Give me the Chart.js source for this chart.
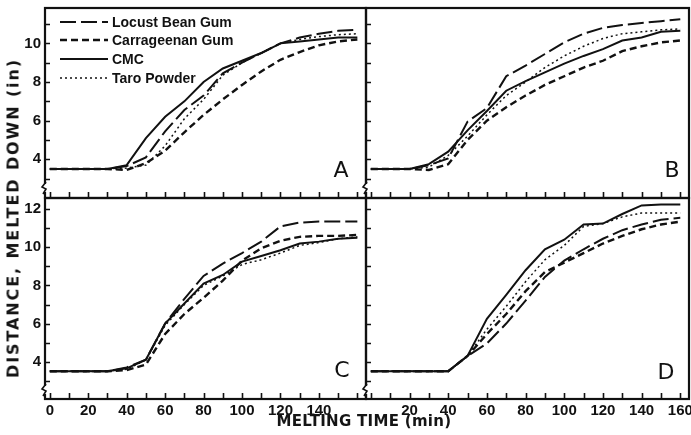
<!DOCTYPE html>
<html><head><meta charset="utf-8">
<script src="https://cdn.jsdelivr.net/npm/chart.js@4.4.1/dist/chart.umd.min.js"></script>
<style>
html,body{margin:0;padding:0;background:#fff;}
#wrap{position:relative;width:691px;height:435px;overflow:hidden;background:#fff;}
canvas{position:absolute;left:0;top:0;}
.title{position:absolute;font-family:"DejaVu Sans",sans-serif;font-weight:bold;color:#151515;white-space:nowrap;}
#xt{left:0;width:728px;top:412px;text-align:center;font-size:15px;letter-spacing:0.3px;}
#yt{left:13px;top:218px;font-size:16px;letter-spacing:1.9px;transform:translate(-50%,-50%) rotate(-90deg);}
</style></head><body><div id="wrap">
<canvas id="cA" width="691" height="435"></canvas>
<canvas id="cB" width="691" height="435"></canvas>
<canvas id="cC" width="691" height="435"></canvas>
<canvas id="cD" width="691" height="435"></canvas>
<div class="title" id="xt">MELTING TIME (min)</div>
<div class="title" id="yt">DISTANCE, MELTED DOWN (in)</div>
</div>
<script>
// ---- data (distance melted down, inches, every 10 min) ----
const minutes = [0,10,20,30,40,50,60,70,80,90,100,110,120,130,140,150,160];
const seriesNames = ['Locust Bean Gum','Carrageenan Gum','CMC','Taro Powder'];
const panelLetters = ['A','B','C','D'];

const locustA = [3.5,3.5,3.5,3.5,3.65,4.1,5.45,6.55,7.3,8.45,9.0,9.5,10.0,10.3,10.5,10.65,10.7];
const carrA   = [3.5,3.5,3.5,3.5,3.45,3.8,4.45,5.4,6.3,7.1,7.85,8.55,9.15,9.55,9.9,10.1,10.2];
const cmcA    = [3.5,3.5,3.5,3.5,3.7,5.1,6.2,7.0,8.0,8.7,9.1,9.5,10.0,10.1,10.2,10.3,10.3];
const taroA   = [3.5,3.5,3.5,3.5,3.55,3.7,4.7,6.1,7.1,8.35,9.0,9.5,10.0,10.2,10.35,10.45,10.5];

const locustB = [3.5,3.5,3.5,3.7,4.05,5.95,6.65,8.3,8.85,9.45,10.05,10.5,10.8,10.95,11.05,11.15,11.25];
const carrB   = [3.5,3.5,3.5,3.45,3.75,5.0,6.0,6.7,7.3,7.85,8.3,8.75,9.1,9.6,9.85,10.05,10.15];
const cmcB    = [3.5,3.5,3.5,3.75,4.4,5.5,6.5,7.55,8.05,8.5,8.95,9.35,9.7,10.15,10.3,10.6,10.65];
const taroB   = [3.5,3.5,3.5,3.6,4.2,5.2,6.3,7.3,8.0,8.75,9.35,9.85,10.25,10.5,10.6,10.7,10.75];

const locustC = [3.5,3.5,3.5,3.5,3.7,4.1,6.0,7.3,8.5,9.15,9.7,10.3,11.1,11.3,11.35,11.35,11.35];
const carrC   = [3.5,3.5,3.5,3.5,3.55,3.85,5.45,6.5,7.35,8.25,9.3,9.95,10.35,10.55,10.6,10.6,10.65];
const cmcC    = [3.5,3.5,3.5,3.5,3.65,4.1,6.0,7.05,8.1,8.55,9.25,9.55,9.85,10.2,10.3,10.45,10.5];
const taroC   = [3.5,3.5,3.5,3.5,3.6,4.1,5.9,7.0,8.0,8.5,9.1,9.35,9.7,10.1,10.25,10.45,10.55];

const locustD = [3.5,3.5,3.5,3.5,3.5,4.3,4.95,6.0,7.2,8.45,9.3,9.9,10.45,10.9,11.2,11.45,11.55];
const carrD   = [3.5,3.5,3.5,3.5,3.5,4.3,5.45,6.5,7.7,8.7,9.2,9.7,10.2,10.6,10.95,11.2,11.35];
const cmcD    = [3.5,3.5,3.5,3.5,3.5,4.3,6.25,7.5,8.8,9.9,10.4,11.2,11.25,11.75,12.2,12.25,12.25];
const taroD   = [3.5,3.5,3.5,3.5,3.5,4.3,5.7,6.9,8.2,9.35,10.1,11.1,11.25,11.6,11.8,11.8,11.8];

const xTickValues = [0,10,20,30,40,50,60,70,80,90,100,110,120,130,140,150,160];
const xLabelsC = [0,20,40,60,80,100,120,140];
const xLabelsD = [20,40,60,80,100,120,140,160];
const yTicksTop = [3,4,5,6,7,8,9,10,11];
const yTicksBottom = [3,4,5,6,7,8,9,10,11,12];
const yLabelsA = [4,6,8,10];
const yLabelsC = [4,6,8,10,12];

// ---- styling ----
const INK = '#111111';
const styles = [
  {borderDash:[16,5], borderWidth:2.0},   // Locust
  {borderDash:[7,4],  borderWidth:2.4},   // Carrageenan
  {borderDash:[],     borderWidth:2.0},   // CMC
  {borderDash:[2,3],  borderWidth:1.5}    // Taro
];
const YW = 40, XH = 30, W = 691, H = 435;
const panels = [
  {id:'cA', box:[45,366,8,198],  y:[2.0,11.83],  yTicks:yTicksTop,    yLabels:yLabelsA, xLabels:[], data:[locustA,carrA,cmcA,taroA], legend:true,  letterPos:[341,171], breakY:188},
  {id:'cB', box:[366,689,8,198], y:[2.0,11.83],  yTicks:yTicksTop,    yLabels:[],       xLabels:[], data:[locustB,carrB,cmcB,taroB], legend:false, letterPos:[672,171], breakY:188},
  {id:'cC', box:[45,366,198,399],y:[2.04,12.59], yTicks:yTicksBottom, yLabels:yLabelsC, xLabels:xLabelsC, data:[locustC,carrC,cmcC,taroC], legend:false, letterPos:[342,371], breakY:390},
  {id:'cD', box:[366,689,198,399],y:[2.04,12.59],yTicks:yTicksBottom, yLabels:[],       xLabels:xLabelsD, data:[locustD,carrD,cmcD,taroD], legend:false, letterPos:[666,373], breakY:390}
];

const tickFont = {family:'"Liberation Sans Narrow","Liberation Sans",Arial,sans-serif', size:15, weight:'bold'};

const decoPlugin = {
  id:'deco',
  afterDraw(chart, args, opts){
    const ctx = chart.ctx, a = chart.chartArea;
    const xs = chart.scales.x, ys = chart.scales.y;
    ctx.save();
    ctx.strokeStyle = INK; ctx.lineWidth = 2.2; ctx.setLineDash([]);
    ctx.strokeRect(a.left, a.top, a.right - a.left, a.bottom - a.top);
    ctx.lineWidth = 1.6;
    ctx.beginPath();
    opts.xTicks.forEach(v => { const px = Math.round(xs.getPixelForValue(v)) + 0.5; ctx.moveTo(px, a.bottom); ctx.lineTo(px, a.bottom - 6); });
    opts.yTicks.forEach(v => { const py = Math.round(ys.getPixelForValue(v)) + 0.5; ctx.moveTo(a.left, py); ctx.lineTo(a.left + 5, py); });
    ctx.stroke();
    // axis break
    const b = opts.breakY;
    ctx.fillStyle = '#fff';
    ctx.fillRect(a.left - 2, b - 4, 4, 8);
    ctx.lineWidth = 1.6;
    ctx.beginPath();
    ctx.moveTo(a.left + 1, b - 6); ctx.lineTo(a.left - 3, b - 1); ctx.lineTo(a.left + 1, b + 1); ctx.lineTo(a.left - 2, b + 6);
    ctx.stroke();
    // panel letter
    ctx.fillStyle = INK;
    ctx.font = '22px "DejaVu Sans", sans-serif';
    ctx.textAlign = 'center'; ctx.textBaseline = 'middle';
    ctx.fillText(opts.letter, opts.letterPos[0], opts.letterPos[1]);
    // legend
    if (opts.legend){
      const rows = [22,40,59,78];
      ctx.font = 'bold 14px "Liberation Sans", Arial, sans-serif';
      ctx.textAlign = 'left';
      chart.data.datasets.forEach((ds, i) => {
        ctx.strokeStyle = INK;
        ctx.lineWidth = ds.borderWidth;
        ctx.setLineDash(ds.borderDash);
        ctx.beginPath(); ctx.moveTo(60, rows[i]); ctx.lineTo(108, rows[i]); ctx.stroke();
        ctx.setLineDash([]);
        ctx.fillText(ds.label, 112, rows[i] + 1);
      });
    }
    ctx.restore();
  }
};

panels.forEach((p, k) => {
  const [L, R, T, B] = p.box;
  new Chart(document.getElementById(p.id), {
    type:'line',
    data:{
      datasets: p.data.map((arr, i) => ({
        label: seriesNames[i],
        data: minutes.map((m, j) => ({x:m, y:arr[j]})),
        borderColor: INK,
        borderWidth: styles[i].borderWidth,
        borderDash: styles[i].borderDash,
        pointRadius: 0,
        tension: 0,
        fill: false
      }))
    },
    options:{
      responsive:false, animation:false, devicePixelRatio:1,
      layout:{autoPadding:false, padding:{left:L - YW, right:W - R, top:T, bottom:H - B - XH}},
      plugins:{legend:{display:false}, tooltip:{enabled:false},
        deco:{xTicks:xTickValues, yTicks:p.yTicks, letter:panelLetters[k], letterPos:p.letterPos, legend:p.legend, breakY:p.breakY}},
      scales:{
        x:{type:'linear', min:-2.5, max:164.5,
           grid:{display:false, drawTicks:false, tickLength:0}, border:{display:false},
           ticks:{display:p.xLabels.length > 0, color:INK, font:tickFont, padding:3, maxRotation:0, autoSkip:false},
           afterBuildTicks:(s) => { s.ticks = p.xLabels.map(v => ({value:v})); },
           afterFit:(s) => { s.height = XH; s.paddingLeft = 0; s.paddingRight = 0; }},
        y:{type:'linear', min:p.y[0], max:p.y[1],
           grid:{display:false, drawTicks:false, tickLength:0}, border:{display:false},
           ticks:{display:p.yLabels.length > 0, color:INK, font:tickFont, padding:4, autoSkip:false},
           afterBuildTicks:(s) => { s.ticks = p.yLabels.map(v => ({value:v})); },
           afterFit:(s) => { s.width = YW; s.paddingTop = 0; s.paddingBottom = 0; }}
      }
    },
    plugins:[decoPlugin]
  });
});
</script>
</body></html>
